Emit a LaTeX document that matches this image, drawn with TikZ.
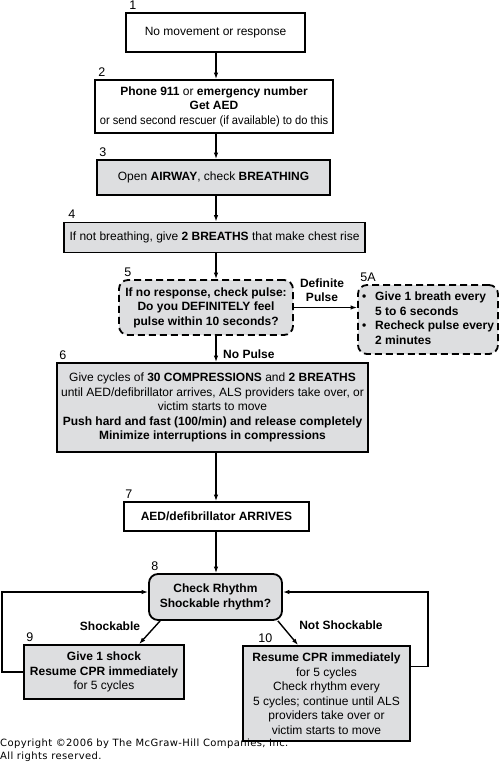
\documentclass[tikz,border=0pt]{standalone}
\usepackage{fontspec}
\usepackage{graphicx}
\setmainfont{Liberation Sans}
\newfontfamily\cpfont[LetterSpace=4]{DejaVu Sans}
\usetikzlibrary{arrows.meta}
\definecolor{boxgray}{RGB}{221,222,224}
\tikzset{
  x=1pt, y=-1pt,
  box/.style={draw=black, line width=1.8pt, inner sep=0pt, align=center,
    font=\fontsize{12}{14.5}\selectfont},
  gbox/.style={box, fill=boxgray},
  dbox/.style={gbox, rounded corners=9pt, dash pattern=on 7pt off 4pt},
  rbox/.style={gbox, rounded corners=9pt},
  num/.style={inner sep=0pt, anchor=base west, font=\fontsize{12.5}{12}\selectfont},
  arr/.style={line width=1.4pt, -{Latex[length=6.5pt,width=4.5pt]}},
  elab/.style={inner sep=0pt, align=center, font=\bfseries\fontsize{12}{14.5}\selectfont},
}
\begin{document}
\begin{tikzpicture}
\useasboundingbox (0,0) rectangle (500,773);
\coordinate (col) at (216,0);

\node[box, minimum width=179pt, minimum height=39pt] (n1) at (215.5,32.5) {No movement or response};
\node[box, minimum width=238pt, minimum height=53pt] (n2) at (214,106.5)
  {\textbf{Phone 911} or \textbf{emergency number}\\ \textbf{Get AED}\\ \scalebox{0.93}[1]{or send second rescuer (if available) to do this}};
\node[gbox, minimum width=233pt, minimum height=35pt] (n3) at (213.5,177.5)
  {Open \textbf{AIRWAY}, check \textbf{BREATHING}};
\node[gbox, minimum width=301pt, minimum height=30pt] (n4) at (214.5,237.5)
  {If not breathing, give \textbf{2 BREATHS} that make chest rise};
\node[dbox, minimum width=174pt, minimum height=55pt, font=\bfseries\fontsize{12}{14.5}\selectfont] (n5) at (206,307.5)
  {If no response, check pulse:\\Do you DEFINITELY feel\\pulse within 10 seconds?};
\node[dbox, minimum width=140pt, minimum height=69pt, align=left, font=\bfseries\fontsize{12}{14.5}\selectfont] (n5a) at (428,319.5)
  {\begin{tabular}{@{}l@{\hspace{9pt}}l@{}}\textbullet & Give 1 breath every\\ & 5 to 6 seconds\\ \textbullet & Recheck pulse every\\ & 2 minutes\end{tabular}};
\node[gbox, minimum width=311pt, minimum height=89pt] (n6) at (212.5,407.5)
  {Give cycles of \textbf{30 COMPRESSIONS} and \textbf{2 BREATHS}\\
   until AED/defibrillator arrives, ALS providers take over, or\\
   victim starts to move\\
   \textbf{Push hard and fast (100/min) and release completely}\\
   \textbf{Minimize interruptions in compressions}};
\node[box, minimum width=185pt, minimum height=29pt, font=\bfseries\fontsize{12}{14.5}\selectfont] (n7) at (216.5,516.5)
  {AED/defibrillator ARRIVES};
\node[rbox, minimum width=133pt, minimum height=46pt, font=\bfseries\fontsize{12}{14.5}\selectfont] (n8) at (215.5,597)
  {Check Rhythm\\Shockable rhythm?};
\node[gbox, minimum width=160pt, minimum height=54pt] (n9) at (104,672)
  {\textbf{Give 1 shock}\\\textbf{Resume CPR immediately}\\for 5 cycles};
\node[gbox, minimum width=167pt, minimum height=95pt] (n10) at (326.5,693.5)
  {\textbf{Resume CPR immediately}\\for 5 cycles\\Check rhythm every\\5 cycles; continue until ALS\\providers take over or\\victim starts to move};

% step numbers
\node[num] (l1) at ([xshift=4pt,yshift=3pt]n1.north west) {1};
\node[num] (l2) at ([xshift=4pt,yshift=3pt]n2.north west) {2};
\node[num] (l3) at ([xshift=3pt,yshift=3pt]n3.north west) {3};
\node[num] (l4) at ([xshift=5pt,yshift=3pt]n4.north west) {4};
\node[num] (l5) at ([xshift=6pt,yshift=3pt]n5.north west) {5};
\node[num] (l5a) at ([xshift=3pt,yshift=3pt]n5a.north west) {5A};
\node[num] (l6) at ([xshift=3pt,yshift=3pt]n6.north west) {6};
\node[num] (l7) at ([xshift=2pt,yshift=3pt]n7.north west) {7};
\node[num] (l8) at ([xshift=3pt,yshift=3pt]n8.north west) {8};
\node[num] (l9) at ([xshift=3pt,yshift=3pt]n9.north west) {9};
\node[num] (l10) at ([xshift=16pt,yshift=3pt]n10.north west) {10};

% main column arrows
\draw[arr] (col |- n1.south) -- (col |- n2.north);
\draw[arr] (col |- n2.south) -- (col |- n3.north);
\draw[arr] (col |- n3.south) -- (col |- n4.north);
\draw[arr] (col |- n4.south) -- (col |- n5.north);
\draw[arr] (col |- n5.south) -- (col |- n6.north);
\draw[arr] (col |- n6.south) -- (col |- n7.north);
\draw[arr] (col |- n7.south) -- (col |- n8.north);
\draw[arr] (n5.east) -- (n5.east -| n5a.west);

\node[elab] (dp) at (322,290) {Definite\\Pulse};
\node[elab, anchor=west] (np) at (223,354) {No Pulse};

% rhythm branches
\draw[arr] ([xshift=12pt]n8.south west) -- ([xshift=116pt]n9.north west);
\draw[arr] ([xshift=-5pt]n8.south east) -- ([xshift=56pt]n10.north west);
\node[elab] (sh) at (110,626) {Shockable};
\node[elab] (nsh) at (341,625) {Not Shockable};

% loops back
\draw[arr] (n9.west) -- ++(-21,0) |- ([yshift=5pt]n8.west);
\draw[arr] ([yshift=27pt]n10.east) -- ++(17,0) |- ([yshift=5pt]n8.east);

% copyright
\node[inner sep=0pt, anchor=base west, align=left, font=\cpfont\fontsize{10}{13}\selectfont] (cp) at (0,759)
  {Copyright \textcopyright2006 by The McGraw-Hill Companies, Inc.\\All rights reserved.};
\end{tikzpicture}
\end{document}
